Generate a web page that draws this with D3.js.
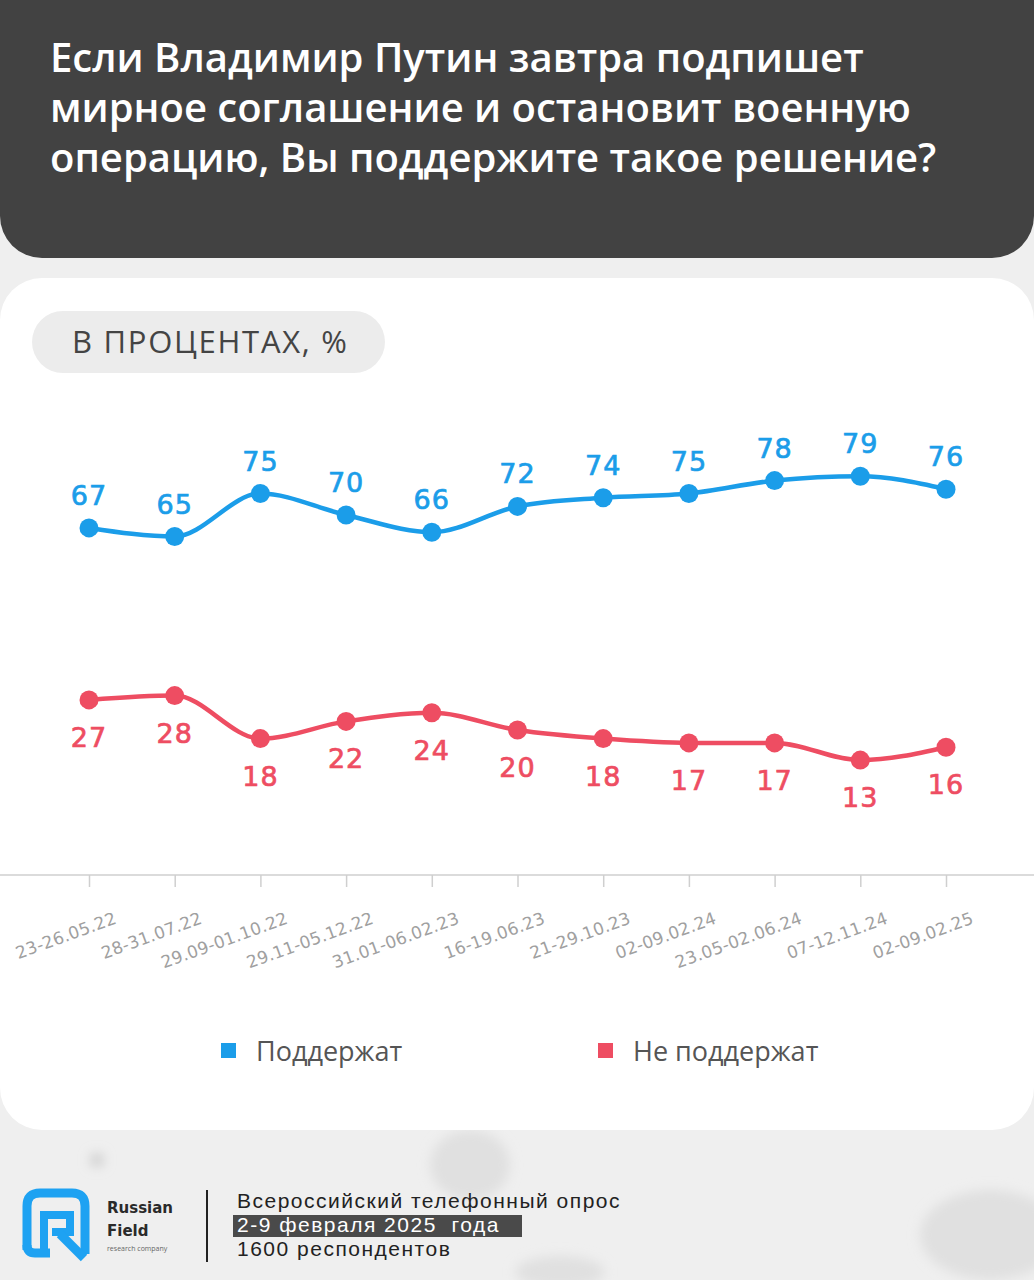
<!DOCTYPE html>
<meta charset="utf-8">
<title>Russian Field</title>
<body>
<script src="https://cdn.jsdelivr.net/npm/d3@7/dist/d3.min.js"></script>
<style>
html, body {
    margin: 0;
    background: #efefef;
}
svg {
    display: block;
}
</style>
<script>
var dates = ["23-26.05.22", "28-31.07.22", "29.09-01.10.22", "29.11-05.12.22", "31.01-06.02.23",
    "16-19.06.23", "21-29.10.23", "02-09.02.24", "23.05-02.06.24", "07-12.11.24", "02-09.02.25"];
var support = [67, 65, 75, 70, 66, 72, 74, 75, 78, 79, 76];
var oppose = [27, 28, 18, 22, 24, 20, 18, 17, 17, 13, 16];
var seriesNames = ["Поддержат", "Не поддержат"];
var titleLines = ["Если Владимир Путин завтра подпишет", "мирное соглашение и остановит военную", "операцию, Вы поддержите такое решение?"];
var footLines = ["Всероссийский телефонный опрос", "2-9 февраля 2025  года", "1600 респондентов"];

var width = 1034,
    height = 1280,
    blue = "#1b9de9",
    red = "#ee4d62";

var svg = d3.select("body").append("svg")
    .attr("width", width)
    .attr("height", height);

// background blotches
svg.append("defs").append("filter").attr("id", "blur")
    .append("feGaussianBlur").attr("stdDeviation", 6);
var blobs = svg.append("g").attr("filter", "url(#blur)").attr("fill", "#e0e0e0");
blobs.append("ellipse").attr("cx", 470).attr("cy", 1165).attr("rx", 40).attr("ry", 35);
blobs.append("ellipse").attr("cx", 990).attr("cy", 1235).attr("rx", 70).attr("ry", 45);
blobs.append("ellipse").attr("cx", 560).attr("cy", 1272).attr("rx", 45).attr("ry", 16);
blobs.append("circle").attr("cx", 97).attr("cy", 1160).attr("r", 7).attr("fill", "#cdcdcd");

// header
svg.append("rect")
    .attr("x", 0).attr("y", -60)
    .attr("width", width).attr("height", 318)
    .attr("rx", 42)
    .attr("fill", "#424242");

svg.append("text")
    .attr("font-family", "'Open Sans', sans-serif")
    .attr("font-weight", 600)
    .attr("font-size", 40)
    .attr("fill", "#fff")
    .selectAll("tspan")
    .data(titleLines)
    .enter().append("tspan")
    .attr("x", 50)
    .attr("y", function(d, i) { return 72 + i * 50; })
    .text(function(d) { return d; });

// card
svg.append("rect")
    .attr("x", 0).attr("y", 278)
    .attr("width", width).attr("height", 852)
    .attr("rx", 42)
    .attr("fill", "#fff");

svg.append("rect")
    .attr("x", 32).attr("y", 311)
    .attr("width", 353).attr("height", 62)
    .attr("rx", 31)
    .attr("fill", "#ececec");

svg.append("text")
    .attr("x", 72).attr("y", 353)
    .attr("font-family", "'Open Sans', sans-serif")
    .attr("font-size", 31)
    .attr("textLength", 275)
    .attr("fill", "#444")
    .text("В ПРОЦЕНТАХ, %");

var x = d3.scalePoint()
    .domain(dates)
    .range([89, 946]);

var y = d3.scaleLinear()
    .domain([0, 100])
    .range([816, 386]);

// axis
svg.append("line")
    .attr("x1", 0).attr("x2", width)
    .attr("y1", 875).attr("y2", 875)
    .attr("stroke", "#cfcfcf")
    .attr("stroke-width", 1.5);

var axis = svg.append("g")
    .attr("transform", "translate(0,875)")
    .call(d3.axisBottom(x).tickSizeInner(12).tickSizeOuter(0).tickPadding(0));

axis.select(".domain").remove();
axis.selectAll(".tick line").attr("stroke", "#cfcfcf").attr("stroke-width", 1.5);
axis.selectAll(".tick text")
    .attr("font-family", "'DejaVu Sans', sans-serif")
    .attr("font-size", 17)
    .attr("letter-spacing", 0.2)
    .attr("fill", "#a0a0a0")
    .attr("text-anchor", "end")
    .attr("dy", 0)
    .attr("y", 0)
    .attr("transform", "translate(28,48) rotate(-20)");

var line = d3.line()
    .x(function(d, i) { return x(dates[i]); })
    .y(function(d) { return y(d); })
    .curve(d3.curveMonotoneX);

var series = [
    {name: seriesNames[0], values: support, color: blue, dy: -23},
    {name: seriesNames[1], values: oppose, color: red, dy: 47}
];

var g = svg.selectAll(".series")
    .data(series)
    .enter().append("g")
    .attr("class", "series");

g.append("path")
    .attr("d", function(d) { return line(d.values); })
    .attr("fill", "none")
    .attr("stroke", function(d) { return d.color; })
    .attr("stroke-width", 4.5);

g.each(function(s) {
    var sel = d3.select(this);
    sel.selectAll("circle")
        .data(s.values)
        .enter().append("circle")
        .attr("cx", function(d, i) { return x(dates[i]); })
        .attr("cy", function(d) { return y(d); })
        .attr("r", 9.5)
        .attr("fill", s.color);
    sel.selectAll(".val")
        .data(s.values)
        .enter().append("text")
        .attr("class", "val")
        .attr("x", function(d, i) { return x(dates[i]); })
        .attr("y", function(d) { return y(d) + s.dy; })
        .attr("text-anchor", "middle")
        .attr("font-family", "'DejaVu Sans', sans-serif")
        .attr("font-size", 27)
        .attr("letter-spacing", 1)
        .attr("fill", s.color)
        .attr("stroke", s.color)
        .attr("stroke-width", 0.7)
        .text(function(d) { return d; });
});

// legend
var legend = svg.selectAll(".legend")
    .data(series)
    .enter().append("g")
    .attr("class", "legend")
    .attr("transform", function(d, i) { return "translate(" + (221 + i * 377) + ",1043)"; });

legend.append("rect")
    .attr("width", 15).attr("height", 15)
    .attr("fill", function(d) { return d.color; });

legend.append("text")
    .attr("x", 35).attr("y", 18)
    .attr("font-family", "'Open Sans', sans-serif")
    .attr("font-size", 27)
    .attr("fill", "#555")
    .text(function(d) { return d.name; });

// footer logo
var logo = svg.append("g").attr("fill", "none").attr("stroke", "#1ea2f2");
logo.append("path")
    .attr("d", "M27,1250 V1206 Q27,1193 40,1193 H72 Q85,1193 85,1206 V1254")
    .attr("stroke-width", 9);
logo.append("path")
    .attr("d", "M27,1245 Q27,1253 35,1253 H50")
    .attr("stroke-width", 9);
logo.append("path")
    .attr("d", "M44,1249 V1215 H70 V1232 H52")
    .attr("stroke-width", 8);
logo.append("path")
    .attr("d", "M60,1234 L84,1258")
    .attr("stroke-width", 9);

svg.append("text")
    .attr("x", 107).attr("y", 1213)
    .attr("font-family", "'DejaVu Sans', sans-serif")
    .attr("font-weight", "bold")
    .attr("font-size", 15)
    .attr("fill", "#2a2a2a")
    .text("Russian");
svg.append("text")
    .attr("x", 107).attr("y", 1236)
    .attr("font-family", "'DejaVu Sans', sans-serif")
    .attr("font-weight", "bold")
    .attr("font-size", 15)
    .attr("fill", "#2a2a2a")
    .text("Field");
svg.append("text")
    .attr("x", 107).attr("y", 1251)
    .attr("font-family", "'Open Sans', sans-serif")
    .attr("font-size", 7)
    .attr("fill", "#666")
    .text("research company");

svg.append("line")
    .attr("x1", 207).attr("x2", 207)
    .attr("y1", 1190).attr("y2", 1262)
    .attr("stroke", "#222")
    .attr("stroke-width", 2);

svg.append("rect")
    .attr("x", 233).attr("y", 1215)
    .attr("width", 289).attr("height", 22)
    .attr("fill", "#4a4a4a");

svg.append("g")
    .attr("font-family", "'Liberation Sans', sans-serif")
    .attr("font-size", 21)
    .attr("letter-spacing", 1.5)
    .selectAll("text")
    .data(footLines)
    .enter().append("text")
    .attr("x", 237)
    .attr("y", function(d, i) { return 1208 + i * 24; })
    .attr("fill", function(d, i) { return i === 1 ? "#fff" : "#222"; })
    .attr("xml:space", "preserve")
    .text(function(d) { return d; });
</script>
